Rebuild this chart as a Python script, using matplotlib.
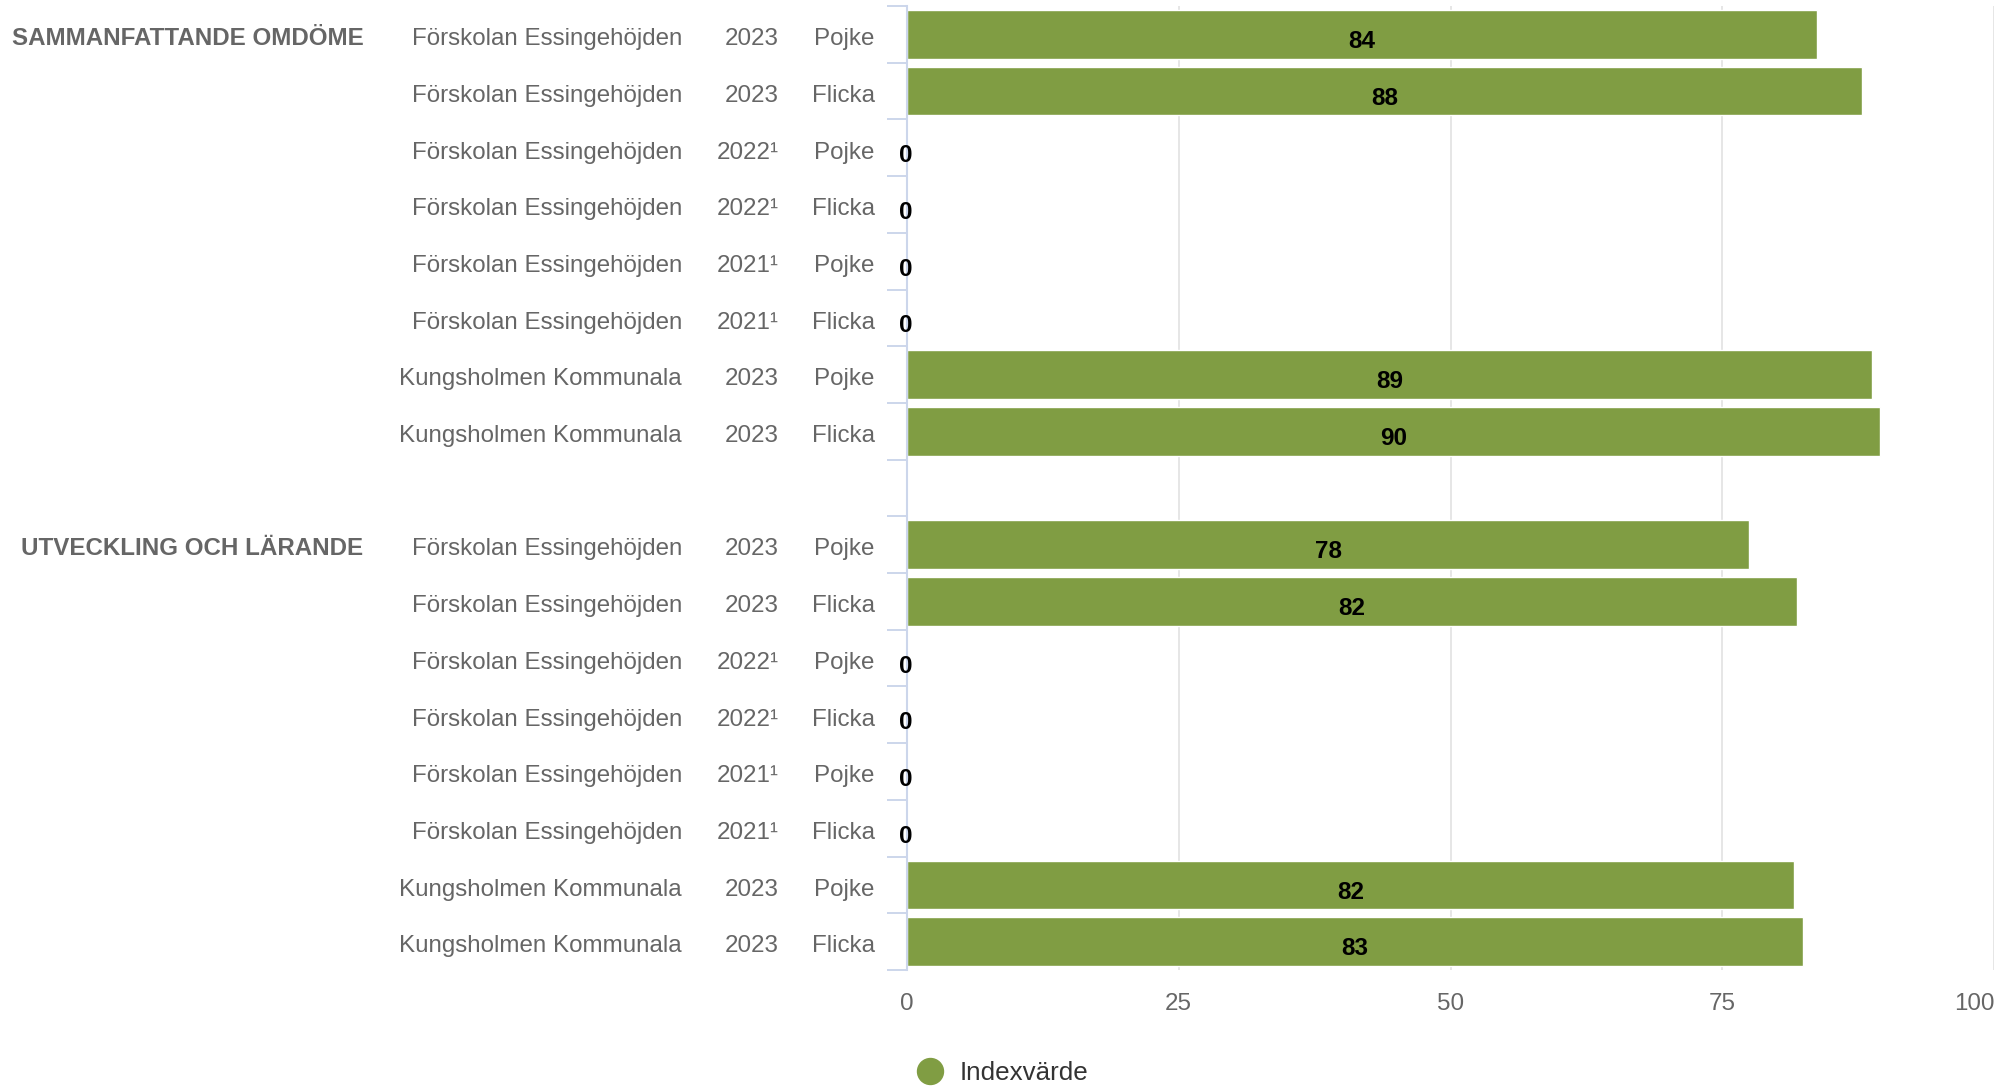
import matplotlib
matplotlib.use("Agg")
import matplotlib.pyplot as plt
import matplotlib.transforms as mtransforms
from matplotlib.lines import Line2D
import numpy as np

plt.rcParams['font.family'] = ['Liberation Sans', 'DejaVu Sans']

# data
groups = ["SAMMANFATTANDE OMDÖME", "UTVECKLING OCH LÄRANDE"]
schools = ["Förskolan Essingehöjden"] * 6 + ["Kungsholmen Kommunala"] * 2
years = ["2023", "2023", "2022\u00b9", "2022\u00b9", "2021\u00b9", "2021\u00b9", "2023", "2023"]
genders = ["Pojke", "Flicka", "Pojke", "Flicka", "Pojke", "Flicka", "Pojke", "Flicka"]

values_sammanfattande = [83.7, 87.9, 0, 0, 0, 0, 88.8, 89.5]
labels_sammanfattande = [84, 88, 0, 0, 0, 0, 89, 90]
values_utveckling = [77.5, 81.9, 0, 0, 0, 0, 81.6, 82.4]
labels_utveckling = [78, 82, 0, 0, 0, 0, 82, 83]

xticks = [0, 25, 50, 75, 100]

green = '#809d43'
grey = '#666666'

fig = plt.figure(figsize=(20.13, 10.89), dpi=100)
ax = fig.add_axes([907 / 2013, 1 - 970 / 1089, 1087 / 2013, 964 / 1089])

all_values = [values_sammanfattande, values_utveckling]
all_labels = [labels_sammanfattande, labels_utveckling]
n = len(schools)

# label columns (figure x, axes-data y)
trans = mtransforms.blended_transform_factory(fig.transFigure, ax.transData)
for g, grp in enumerate(groups):
    rows = np.arange(n) + g * (n + 1)
    ax.barh(rows, all_values[g], height=0.86, color=green, edgecolor='white',
            linewidth=1, zorder=3)
    for r, v, lab in zip(rows, all_values[g], all_labels[g]):
        off = 0.24 if v > 0 else 0.255
        ax.text(v / 2 - (0 if v > 0 else 0.15), r + off, str(lab), ha='center',
                va='baseline', fontsize=17.5, fontweight='bold', color='black',
                zorder=6)
    ax.text(363.6 / 2013, rows[0] + 0.19, grp, transform=trans, ha='right',
            va='baseline', fontsize=17.4, fontweight='bold', color=grey)
    for r, s, y, gd in zip(rows, schools, years, genders):
        ax.text(682 / 2013, r + 0.19, s, transform=trans, ha='right',
                va='baseline', fontsize=17.4, color=grey)
        ax.text(778.5 / 2013, r + 0.19, y, transform=trans, ha='right',
                va='baseline', fontsize=17.4, color=grey)
        ax.text(874.5 / 2013, r + 0.19, gd, transform=trans, ha='right',
                va='baseline', fontsize=17.4, color=grey)

total_rows = 2 * n + 1
ax.set_ylim(total_rows - 0.5, -0.5)
ax.set_xlim(0, 100)

ax.set_yticks(np.arange(-0.5, total_rows, 1))
ax.set_yticklabels([])
ax.tick_params(axis='y', length=14.4, width=1.4, color='#ccd6eb')

ax.set_xticks(xticks)
ax.set_xticklabels([str(t) for t in xticks])
ax.tick_params(axis='x', length=0, pad=16.5, labelsize=17.4, labelcolor=grey)
ax.get_xticklabels()[-1].set_horizontalalignment('right')

ax.xaxis.grid(True, color='#e6e6e6', linewidth=1.4, zorder=0)
ax.set_axisbelow(True)
for side in ['top', 'right', 'bottom']:
    ax.spines[side].set_visible(False)
ax.spines['left'].set_color('#ccd6eb')
ax.spines['left'].set_linewidth(1.5)
ax.spines['left'].set_zorder(5)

handle = Line2D([], [], marker='o', linestyle='', color=green, markersize=18.7)
fig.legend(handles=[handle], labels=['Indexvärde'], loc='center left',
           bbox_to_anchor=(916.7 / 2013, 1 - 1073 / 1089), frameon=False,
           fontsize=18.7, labelcolor='#333333', handlelength=1,
           handletextpad=0.64, borderpad=0, borderaxespad=0)

fig.savefig('out.png', dpi=100, facecolor='white')
